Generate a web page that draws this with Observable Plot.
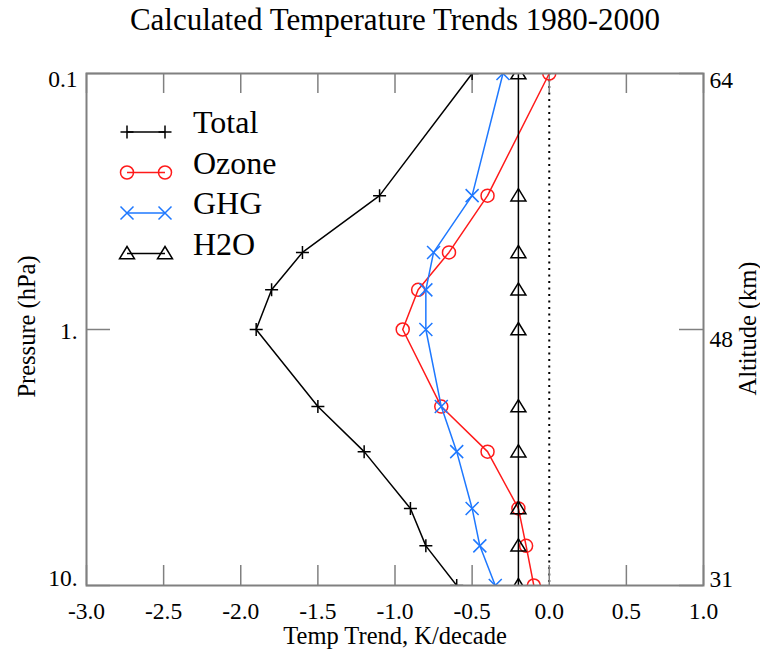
<!DOCTYPE html>
<html>
<head>
<meta charset="utf-8">
<script src="https://cdn.jsdelivr.net/npm/d3@7"></script>
<script src="https://cdn.jsdelivr.net/npm/@observablehq/plot@0.6"></script>
<style>
  html, body { margin: 0; padding: 0; background: #fff; }
</style>
</head>
<body>
<div id="chart"></div>
<script>
// ---------- data ----------
const pressure = [0.1, 0.3, 0.5, 0.7, 1, 2, 3, 5, 7, 10];
const total = [-0.5, -1.1, -1.6, -1.8, -1.9, -1.5, -1.2, -0.9, -0.8, -0.6];
const ozone = [0.0, -0.4, -0.65, -0.85, -0.95, -0.7, -0.4, -0.2, -0.15, -0.1];
const ghg = [-0.3, -0.5, -0.75, -0.8, -0.8, -0.7, -0.6, -0.5, -0.45, -0.35];
const h2o = [-0.2, -0.2, -0.2, -0.2, -0.2, -0.2, -0.2, -0.2, -0.2, -0.2];

const seriesNames = ["Total", "Ozone", "GHG", "H2O"];
const xTicks = [-3, -2.5, -2, -1.5, -1, -0.5, 0, 0.5, 1];
const xTickLabels = ["-3.0", "-2.5", "-2.0", "-1.5", "-1.0", "-0.5", "0.0", "0.5", "1.0"];
const yTicks = [0.1, 1, 10];
const yTickLabels = ["0.1", "1.", "10."];
const altTickLabels = ["64", "48", "31"];

const titleText = "Calculated Temperature Trends 1980-2000";
const xLabel = "Temp Trend, K/decade";
const yLabel = "Pressure (hPa)";
const y2Label = "Altitude (km)";

// ---------- symbols (r = half extent) ----------
const rad = size => Math.sqrt(size / Math.PI);
const plusSym = { draw(c, s) { const r = rad(s); c.moveTo(-r, 0); c.lineTo(r, 0); c.moveTo(0, -r); c.lineTo(0, r); } };
const timesSym = { draw(c, s) { const r = rad(s); c.moveTo(-r, -r); c.lineTo(r, r); c.moveTo(-r, r); c.lineTo(r, -r); } };
const circSym = { draw(c, s) { const r = rad(s); c.moveTo(r, 0); c.arc(0, 0, r, 0, 2 * Math.PI); c.closePath(); } };
const triSym = { draw(c, s) { const r = rad(s); c.moveTo(0, -r); c.lineTo(r * 1.07, r * 0.75); c.lineTo(-r * 1.07, r * 0.75); c.closePath(); } };

const values = [total, ozone, ghg, h2o];
const styles = [
  { color: "#000000", symbol: plusSym, r: 6.5 },
  { color: "#ff1a1a", symbol: circSym, r: 6.5 },
  { color: "#1e78ff", symbol: timesSym, r: 6.5 },
  { color: "#000000", symbol: triSym, r: 7 }
];

const rows = seriesNames.flatMap((name, k) =>
  pressure.map((p, i) => ({ series: name, k, p, t: values[k][i] }))
);

const W = 760, H = 651;
const mL = 86, mR = 57, mT = 73, mB = 66;
const frameW = W - mL - mR, frameH = H - mT - mB;
const font = "'Liberation Serif', 'Times New Roman', serif";
const axisGray = "#808080";

// legend drawn as a render-function mark
function legend(index, scales, vals, dims) {
  const g = d3.create("svg:g").attr("font-family", font).attr("text-anchor", "start");
  seriesNames.forEach((name, k) => {
    const st = styles[k];
    const y = dims.marginTop + 59 + k * 40.5;
    const x1 = dims.marginLeft + 41, x2 = dims.marginLeft + 79;
    g.append("line").attr("x1", x1).attr("x2", x2).attr("y1", y).attr("y2", y)
      .attr("stroke", st.color).attr("stroke-width", 1.5);
    const sym = d3.symbol(st.symbol, Math.PI * st.r * st.r);
    [x1, x2].forEach(x => g.append("path").attr("d", sym())
      .attr("transform", `translate(${x},${y})`)
      .attr("fill", "none").attr("stroke", st.color).attr("stroke-width", 1.5));
    g.append("text").attr("x", dims.marginLeft + 107).attr("y", y - 10)
      .attr("dy", "0.35em").attr("font-size", 32).attr("fill", "#000").text(name);
  });
  return g.node();
}

const marks = [
  Plot.ruleX([0], { stroke: "#000", strokeWidth: 2, strokeDasharray: "2,4.5" }),
  // inward ticks
  Plot.ruleX(xTicks, { x: d => d, insetTop: frameH - 20, stroke: axisGray, strokeWidth: 1.5 }),
  Plot.ruleX(xTicks, { x: d => d, insetBottom: frameH - 20, stroke: axisGray, strokeWidth: 1.5 }),
  Plot.ruleY(yTicks, { y: d => d, insetRight: frameW - 24, stroke: axisGray, strokeWidth: 1.5 }),
  Plot.ruleY(yTicks, { y: d => d, insetLeft: frameW - 24, stroke: axisGray, strokeWidth: 1.5 })
];

seriesNames.forEach((name, k) => {
  const st = styles[k];
  const d = rows.filter(r => r.k === k);
  marks.push(Plot.line(d, { x: "t", y: "p", stroke: st.color, strokeWidth: 1.5, clip: true }));
  marks.push(Plot.dot(d, { x: "t", y: "p", symbol: st.symbol, r: st.r, stroke: st.color, fill: "none", strokeWidth: 1.5, clip: true }));
});

marks.push(Plot.frame({ stroke: axisGray, strokeWidth: 2 }));

// tick labels
marks.push(Plot.text(xTicks, { x: d => d, text: (d, i) => xTickLabels[i], frameAnchor: "bottom", lineAnchor: "middle", dy: 26, fontSize: 23.5, fill: "#000" }));
const leftDy = [6, 2, -7], rightDy = [7, 10, -6];
yTicks.forEach((v, i) => {
  marks.push(Plot.text([v], { y: d => d, text: () => yTickLabels[i], frameAnchor: "left", textAnchor: "end", lineAnchor: "middle", dx: -9, dy: leftDy[i], fontSize: 23.5, fill: "#000" }));
  marks.push(Plot.text([v], { y: d => d, text: () => altTickLabels[i], frameAnchor: "right", textAnchor: "start", lineAnchor: "middle", dx: 6, dy: rightDy[i], fontSize: 23.5, fill: "#000" }));
});

// axis titles and chart title
marks.push(Plot.text([xLabel], { text: d => d, frameAnchor: "bottom", textAnchor: "middle", lineAnchor: "middle", dy: 51, fontSize: 24.5, fill: "#000" }));
marks.push(Plot.text([yLabel], { text: d => d, frameAnchor: "left", textAnchor: "middle", lineAnchor: "middle", dx: -59, dy: -3, rotate: -90, fontSize: 24.5, fill: "#000" }));
marks.push(Plot.text([y2Label], { text: d => d, frameAnchor: "right", textAnchor: "middle", lineAnchor: "middle", dx: 45, dy: -1, rotate: -90, fontSize: 24.5, fill: "#000" }));
marks.push(Plot.text([titleText], { text: d => d, frameAnchor: "top", textAnchor: "middle", lineAnchor: "middle", dy: -53, fontSize: 31, fill: "#000" }));
marks.push(legend);

const chart = Plot.plot({
  width: W, height: H,
  marginLeft: mL, marginRight: mR, marginTop: mT, marginBottom: mB,
  style: { fontFamily: font, background: "#fff", overflow: "visible" },
  x: { domain: [-3, 1], axis: null },
  y: { type: "log", domain: [0.1, 10], reverse: true, axis: null },
  marks
});
document.getElementById("chart").appendChild(chart);
</script>
</body>
</html>
